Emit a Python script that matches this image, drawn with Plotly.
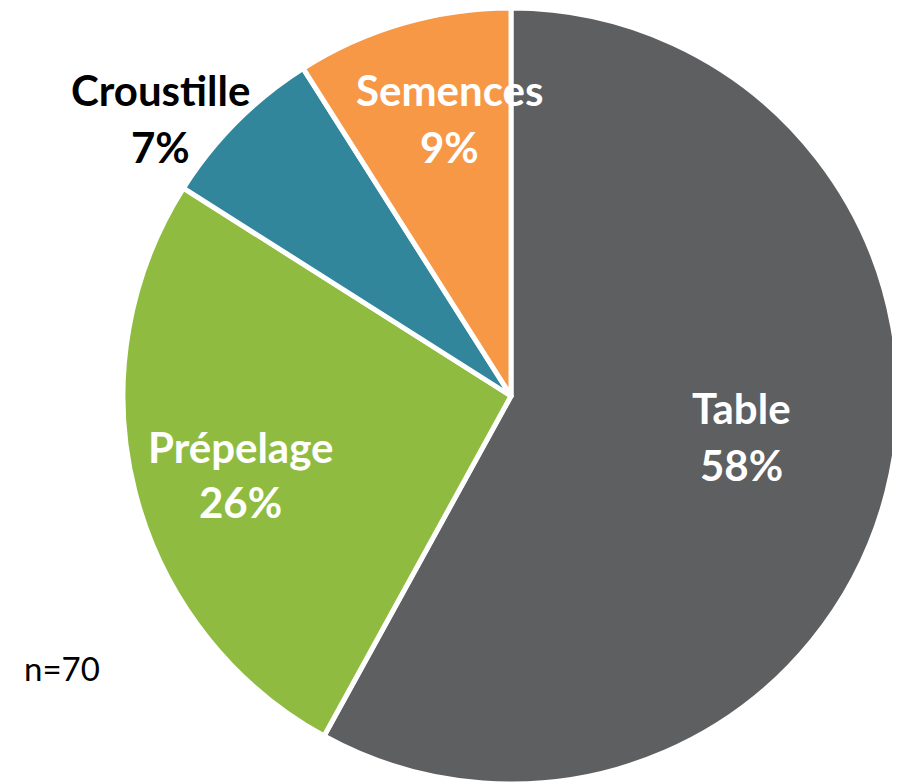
import plotly.graph_objects as go

# slices, clockwise from 12 o'clock
labels = ["Table", "Prépelage", "Croustille", "Semences"]
values = [58, 26, 7, 9]
colors = ["#5e5f61", "#8fbc40", "#31869b", "#f79847"]
text_colors = ["white", "white", "black", "white"]
n_total = 70

# page offset of the figure (body margin)
OFF = 8
W, H = 900 - OFF, 784 - OFF

# label centres in page pixels (x, name line y, percent line y)
label_pos = [(741, 408, 465), (241, 447, 502), (160, 90, 147), (449, 90, 147)]


def px_x(x):
    return (x - OFF) / W


def px_y(y):
    return 1 - (y - OFF) / H


fig = go.Figure()
fig.add_trace(go.Pie(
    labels=labels,
    values=values,
    sort=False,
    direction="clockwise",
    rotation=0,
    marker=dict(colors=colors, line=dict(color="white", width=5)),
    textinfo="none",
    hoverinfo="label+percent",
    showlegend=False,
    domain=dict(x=[px_x(122), 1], y=[0, 1]),
))

total = sum(values)
for lab, val, col, (x, y1, y2) in zip(labels, values, text_colors, label_pos):
    pct = f"{round(100 * val / total)}%"
    for txt, y in ((lab, y1), (pct, y2)):
        fig.add_annotation(
            x=px_x(x), y=px_y(y), xref="paper", yref="paper",
            text=f"<b>{txt}</b>", showarrow=False,
            font=dict(family="Lato", size=42, color=col),
            xanchor="center", yanchor="middle",
        )

fig.add_annotation(
    x=px_x(22), y=px_y(668), xref="paper", yref="paper",
    text=f"n={n_total}", showarrow=False,
    font=dict(family="Lato", size=33, color="black"),
    xanchor="left", yanchor="middle",
)

fig.update_layout(
    width=W, height=H,
    margin=dict(l=0, r=0, t=0, b=0),
    paper_bgcolor="white",
    plot_bgcolor="white",
)

fig.write_html("out.html")
